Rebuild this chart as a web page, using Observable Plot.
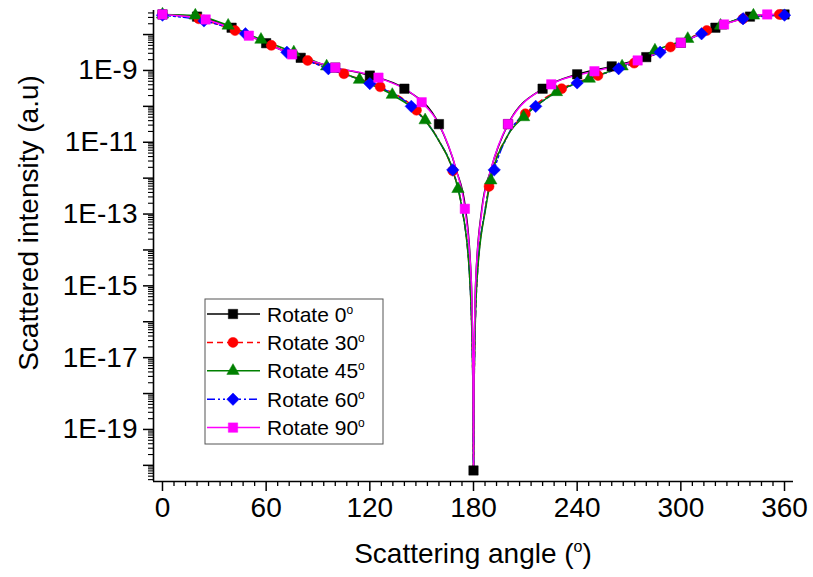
<!DOCTYPE html>
<html><head><meta charset="utf-8">
<script src="https://cdn.jsdelivr.net/npm/d3@7"></script>
<script src="https://cdn.jsdelivr.net/npm/@observablehq/plot@0.6"></script>
<style>
body{margin:0;background:#fff}
#chart{position:relative;width:813px;height:577px}
</style>
</head><body><div id="chart"></div>
<script>
// ---- data ----
const seriesNames = ["Rotate 0", "Rotate 30", "Rotate 45", "Rotate 60", "Rotate 90"];
const xTickValues = [0, 60, 120, 180, 240, 300, 360];
const yTickLabels = ["1E-9", "1E-11", "1E-13", "1E-15", "1E-17", "1E-19"];

// Rotate 0 (black squares)
const rot0Angles = [0, 20, 40, 60, 80, 100, 120, 140, 160, 180, 200, 220, 240, 260, 280, 300, 320, 340, 360];
const rot0Values = [3.63e-8, 3.16e-8, 1.55e-8, 5.75e-9, 2.25e-9, 1.2e-9, 7.2e-10, 3.1e-10, 3.2e-11, 7.2e-21, 3.2e-11, 3.1e-10, 7.8e-10, 1.3e-9, 2.35e-9, 5.9e-9, 1.55e-8, 3.16e-8, 3.63e-8];
const rot0LineAngles = [170, 175.4, 178.7, 179.7, 180.3, 181.3, 184.8, 190];
const rot0LineValues = [1.7e-12, 1.4e-13, 1.4e-15, 2.3e-18, 2.3e-18, 1.4e-15, 1.4e-13, 1.7e-12];

// Rotate 30 (red circles)
const rot30Angles = [0, 21, 42, 63, 84, 105, 126, 147, 168, 189, 210, 231, 252, 273, 294, 315, 336, 357];
const rot30Values = [3.63e-8, 2.75e-8, 1.29e-8, 5.0e-9, 1.9e-9, 8.1e-10, 3.5e-10, 7.8e-11, 1.6e-12, 5.9e-13, 6.2e-11, 3.1e-10, 7.2e-10, 1.6e-9, 4.5e-9, 1.29e-8, 2.75e-8, 3.63e-8];
const rot30LineAngles = [160, 173.4, 177.9, 179.6, 180, 180.4, 182, 186.8, 200, 360];
const rot30LineValues = [1.1e-11, 1.4e-13, 1.4e-15, 2.3e-18, 7.2e-21, 2.3e-18, 1.4e-15, 1.4e-13, 1.6e-11, 3.63e-8];

// Rotate 45 (green triangles)
const rot45Angles = [0, 19, 38, 57, 76, 95, 114, 133, 152, 171, 190, 209, 228, 247, 266, 285, 304, 323, 342];
const rot45Values = [3.63e-8, 3.39e-8, 1.78e-8, 7.2e-9, 3.2e-9, 1.3e-9, 5.5e-10, 2.1e-10, 4.1e-11, 5.0e-13, 8.7e-13, 5.0e-11, 2.5e-10, 5.9e-10, 1.3e-9, 3.6e-9, 7.6e-9, 1.78e-8, 3.39e-8];
const rot45LineAngles = [160, 168, 173.4, 177.9, 179.6, 180, 180.4, 182, 187, 200, 360];
const rot45LineValues = [1.1e-11, 1.7e-12, 1.4e-13, 1.4e-15, 2.3e-18, 7.2e-21, 2.3e-18, 1.4e-15, 1.4e-13, 1.6e-11, 3.63e-8];

// Rotate 60 (blue diamonds)
const rot60Angles = [0, 24, 48, 72, 96, 120, 144, 168, 192, 216, 240, 264, 288, 312, 336, 360];
const rot60Values = [3.47e-8, 2.4e-8, 1.05e-8, 3.2e-9, 1.12e-9, 4.3e-10, 1.0e-10, 1.7e-12, 1.7e-12, 1.0e-10, 4.5e-10, 1.12e-9, 3.2e-9, 1.05e-8, 2.75e-8, 3.47e-8];
const rot60LineAngles = [160, 173.4, 177.9, 179.6, 180, 180.4, 182, 186.8, 200];
const rot60LineValues = [1.1e-11, 1.4e-13, 1.4e-15, 2.3e-18, 7.2e-21, 2.3e-18, 1.4e-15, 1.4e-13, 1.6e-11];

// Rotate 90 (magenta squares)
const rot90Angles = [0, 25, 50, 75, 100, 125, 150, 175, 200, 225, 250, 275, 300, 325, 350];
const rot90Values = [3.63e-8, 2.63e-8, 9.3e-9, 2.8e-9, 1.2e-9, 6.3e-10, 1.3e-10, 1.4e-13, 3.2e-11, 4.1e-10, 9.5e-10, 1.9e-9, 5.9e-9, 1.91e-8, 3.63e-8];
const rot90LineAngles = [160, 170, 178.7, 179.7, 180, 180.3, 181.3, 185, 190, 360];
const rot90LineValues = [3.2e-11, 1.7e-12, 1.4e-15, 2.3e-18, 7.2e-21, 2.3e-18, 1.4e-15, 1.4e-13, 1.7e-12, 3.63e-8];

// ---- styles ----
const colors = ["#000000", "#ff0000", "#008000", "#0000ff", "#ff00ff"];
const symbols = ["square", "circle", "triangle", "diamond2", "square"];
const symbolR = [5.3, 5, 4.6, 5.6, 5.3];
const dashes = [null, "6,4", null, "8,3,2,3,2,3", null];
const font = "'Liberation Sans', Arial, sans-serif";

const zip = (a, v) => a.map((angle, i) => ({angle, value: v[i]}));
const markerSets = [
  zip(rot0Angles, rot0Values), zip(rot30Angles, rot30Values), zip(rot45Angles, rot45Values),
  zip(rot60Angles, rot60Values), zip(rot90Angles, rot90Values)
];
const extraSets = [
  zip(rot0LineAngles, rot0LineValues), zip(rot30LineAngles, rot30LineValues), zip(rot45LineAngles, rot45LineValues),
  zip(rot60LineAngles, rot60LineValues), zip(rot90LineAngles, rot90LineValues)
];
const lineSets = markerSets.map((m, i) => [...m, ...extraSets[i]].sort((a, b) => a.angle - b.angle));

const xDomain = [-5.2, 365.2];
const yDomain = [Math.pow(10, -20.45), Math.pow(10, -7.33)];
const xMinor = d3.range(0, 361, 60 / 9).filter(a => Math.abs(a / 60 - Math.round(a / 60)) > 1e-6);
const yMajor = d3.range(-20, -7).map(e => Number("1e" + e));
const yMinor = [];
for (let e = -21; e <= -8; e++) for (let k = 2; k <= 9; k++) {
  const v = k * Number("1e" + e);
  if (v >= yDomain[0] && v <= yDomain[1]) yMinor.push(v);
}
const labelFor = d => {
  const s = "1E" + Math.round(Math.log10(d));
  return yTickLabels.includes(s) ? s : "";
};

const lineOrder = [0, 1, 3, 2, 4];
const markOrder = [0, 1, 2, 3, 4];

const plot = Plot.plot({
  width: 813, height: 577,
  marginTop: 10, marginBottom: 96, marginLeft: 153, marginRight: 20,
  style: {fontFamily: font, background: "#fff", color: "#000", overflow: "visible"},
  x: {domain: xDomain},
  y: {type: "log", domain: yDomain},
  marks: [
    Plot.axisX(xTickValues, {tickSize: 10, tickPadding: 6, fontSize: 28, strokeWidth: 1.5, label: null, tickFormat: d => String(d)}),
    Plot.axisX(xMinor, {tickSize: 5, strokeWidth: 1.3, label: null, tickFormat: () => ""}),
    Plot.axisY(yMajor, {tickSize: 10, tickPadding: 6, fontSize: 28, strokeWidth: 1.5, label: null, tickFormat: labelFor}),
    Plot.axisY(yMinor, {tickSize: 5, strokeWidth: 1.1, label: null, tickFormat: () => ""}),
    ...lineOrder.map(i => Plot.line(lineSets[i], {
      x: "angle", y: "value", stroke: colors[i], strokeWidth: 1.5,
      strokeDasharray: dashes[i], curve: "monotone-x"
    })),
    ...markOrder.map(i => Plot.dot(markerSets[i], {
      x: "angle", y: "value", symbol: symbols[i], r: symbolR[i],
      fill: colors[i], stroke: colors[i], strokeWidth: 0.5
    })),
    Plot.ruleX([xDomain[0]], {stroke: "#000", strokeWidth: 1.6}),
    Plot.ruleY([yDomain[0]], {stroke: "#000", strokeWidth: 1.6})
  ]
});

document.getElementById("chart").appendChild(plot);
const svg = d3.select(plot);

// axis titles
const xt = svg.append("text").attr("x", 473).attr("y", 563)
  .attr("text-anchor", "middle").attr("font-size", 28).attr("font-family", font).attr("fill", "#000");
xt.append("tspan").text("Scattering angle (");
xt.append("tspan").text("o").attr("font-size", 16).attr("dy", -11);
xt.append("tspan").text(")").attr("dy", 11);

svg.append("text").attr("transform", "translate(38,223) rotate(-90)")
  .attr("text-anchor", "middle").attr("font-size", 28).attr("font-family", font).attr("fill", "#000")
  .text("Scattered intensity (a.u)");

// legend
const lg = svg.append("g").attr("text-anchor", "start");
lg.append("rect").attr("x", 205).attr("y", 299).attr("width", 178).attr("height", 145)
  .attr("fill", "#fff").attr("stroke", "#555").attr("stroke-width", 1);
const d3sym = {square: d3.symbolSquare, circle: d3.symbolCircle, triangle: d3.symbolTriangle, diamond2: d3.symbolDiamond2};
seriesNames.forEach((name, i) => {
  const y = 314 + i * 28.4;
  lg.append("line").attr("x1", 207).attr("x2", 260).attr("y1", y).attr("y2", y)
    .attr("stroke", colors[i]).attr("stroke-width", 1.5).attr("stroke-dasharray", dashes[i]);
  lg.append("path").attr("transform", `translate(233,${y})`)
    .attr("d", d3.symbol(d3sym[symbols[i]], Math.PI * symbolR[i] * symbolR[i])())
    .attr("fill", colors[i]).attr("stroke", colors[i]).attr("stroke-width", 0.5);
  const t = lg.append("text").attr("x", 267).attr("y", y + 7.5).attr("text-anchor", "start")
    .attr("font-size", 21).attr("font-family", font).attr("fill", "#000");
  t.append("tspan").text(name);
  t.append("tspan").text("o").attr("font-size", 12).attr("dy", -8);
});
</script>
</body></html>
